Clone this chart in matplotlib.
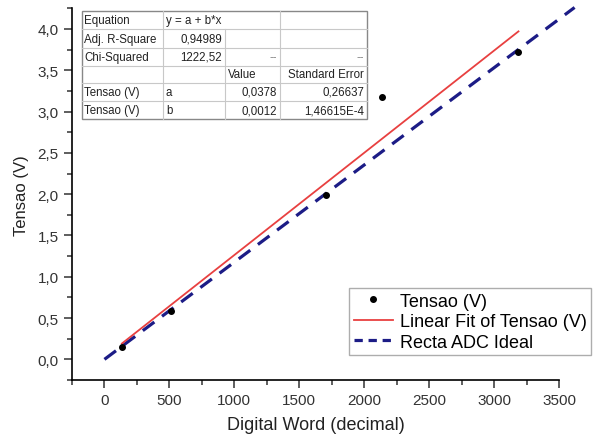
import numpy as np
import matplotlib
matplotlib.use("Agg")
import matplotlib.pyplot as plt
from matplotlib.ticker import MultipleLocator, FuncFormatter
from matplotlib.lines import Line2D
from matplotlib.patches import Rectangle

plt.rcParams['font.family'] = ['Liberation Sans', 'DejaVu Sans']

# data
word = [134, 513, 1705, 2134, 3188]
tensao = [0.149, 0.584, 1.995, 3.18, 3.716]
ideal_x = [0, 3620]
ideal_y = [0, 4.26]

table_rows = [
    ["Equation", "y = a + b*x", "", ""],
    ["Adj. R-Square", "0,94989", "", ""],
    ["Chi-Squared", "1222,52", "--", "--"],
    ["", "", "Value", "Standard Error"],
    ["Tensao (V)", "a", "0,0378", "0,26637"],
    ["Tensao (V)", "b", "0,0012", "1,46615E-4"],
]

W, H = 601, 439
fig = plt.figure(figsize=(W/100, H/100), dpi=100)
ax = fig.add_axes([72/W, (H-381)/H, (559-72)/W, (381-9.3)/H])

# fit
b, a = np.polyfit(word, tensao, 1)
fx = np.array([word[0], word[-1]])
ax.plot(fx, a + b*fx, color='#e84040', lw=1.3, label='Linear Fit of Tensao (V)', zorder=3)
ax.plot(ideal_x, ideal_y, color='#1c1c86', lw=2.3, ls=(0, (4.5, 3)), clip_on=False,
        label='Recta ADC Ideal', zorder=2)
ax.plot(word, tensao, 'o', color='black', ms=4, ls='none', label='Tensao (V)', zorder=4)

ax.set_xlim(-250, 3500)
ax.set_ylim(-0.25, 4.25)
ax.spines['top'].set_visible(False)
ax.spines['right'].set_visible(False)
ax.spines['left'].set_linewidth(1.2)
ax.spines['bottom'].set_linewidth(1.2)
ax.xaxis.set_major_locator(MultipleLocator(500))
ax.xaxis.set_minor_locator(MultipleLocator(250))
ax.yaxis.set_major_locator(MultipleLocator(0.5))
ax.yaxis.set_minor_locator(MultipleLocator(0.25))
ax.yaxis.set_major_formatter(FuncFormatter(lambda v, p: f"{v:.1f}".replace('.', ',')))
ax.tick_params(which='major', direction='out', length=6, width=1.1, labelsize=11, colors='#333333')
ax.tick_params(which='minor', direction='out', length=3.5, width=1.1, colors='#333333')
ax.set_xlabel('Digital Word (decimal)', fontsize=13, labelpad=6, color='#222222')
ax.set_ylabel('Tensao (V)', fontsize=12, labelpad=6, color='#222222')

# legend
handles = [
    Line2D([], [], marker='o', color='black', ms=4, ls='none'),
    Line2D([], [], color='#e84040', lw=1.3),
    Line2D([], [], color='#1c1c86', lw=2.3, ls=(0, (2.6, 1.8))),
]
labels = ['Tensao (V)', 'Linear Fit of Tensao (V)', 'Recta ADC Ideal']
leg = fig.legend(handles, labels, loc='upper left',
                 bbox_to_anchor=(349/W, (H-289)/H), fontsize=13,
                 handlelength=2.2, handletextpad=0.35, labelspacing=0.2,
                 borderpad=0.25, borderaxespad=0, fancybox=False, frameon=True)
leg.get_frame().set_edgecolor('#999999')
leg.get_frame().set_linewidth(1.0)

# table drawn in pixel coords
xe = [81.5, 163, 225, 280, 367]
ye = [11.5, 30, 49, 66.5, 83.5, 102, 120]
def px(x, y):
    return (x/W, 1 - y/H)
fig.patches.append(Rectangle(px(xe[0], ye[-1]), (xe[-1]-xe[0])/W, (ye[-1]-ye[0])/H,
                             transform=fig.transFigure, facecolor='white',
                             edgecolor='#888888', lw=1.0, zorder=5))
for y in ye[1:-1]:
    fig.add_artist(Line2D([xe[0]/W, xe[-1]/W], [1-y/H, 1-y/H], color='#c8c8c8', lw=0.8,
                          transform=fig.transFigure, zorder=6))
for i, x in enumerate(xe[1:-1], start=1):
    ystart = ye[1] if i == 2 else ye[0]
    fig.add_artist(Line2D([x/W, x/W], [1-ystart/H, 1-ye[-1]/H], color='#c8c8c8', lw=0.8,
                          transform=fig.transFigure, zorder=6))
right_cells = {(1, 1), (2, 1), (2, 2), (2, 3), (4, 2), (4, 3), (5, 2), (5, 3), (3, 3)}
for r, row in enumerate(table_rows):
    yc = (ye[r] + ye[r+1]) / 2
    for c, txt in enumerate(row):
        if not txt:
            continue
        if (r, c) in right_cells:
            xx, ha = xe[c+1] - 3, 'right'
        else:
            xx, ha = xe[c] + 3, 'left'
        col = '#888888' if txt == '--' else '#222222'
        fig.text(xx/W, 1 - yc/H, txt, ha=ha, va='center', fontsize=8.3, color=col, zorder=7)

fig.savefig('out.png', dpi=100)
